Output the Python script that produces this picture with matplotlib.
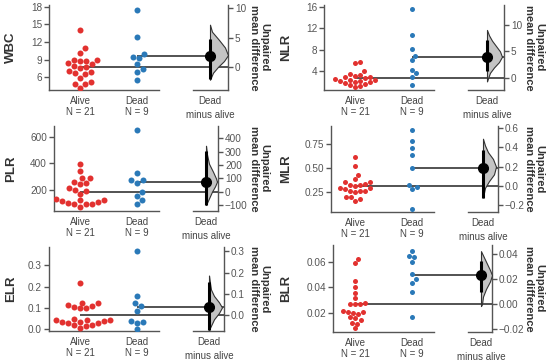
import numpy as np
import matplotlib
matplotlib.use("Agg")
import matplotlib.pyplot as plt

plt.rcParams['font.family'] = ['Liberation Sans', 'DejaVu Sans']

RED = '#e2312f'
BLUE = '#2a79b8'
GREY = '#555555'

group_names = ['Alive', 'Dead']
group_n = [21, 9]
delta_label = 'Dead\nminus alive'

# values
wbc_alive = [14.0, 10.9, 10.1, 8.8, 9.0, 9.0, 8.7, 8.4, 8.3, 7.9, 7.75, 7.5,
             6.85, 7.0, 6.7, 6.6, 5.9, 5.2, 4.9, 4.9, 4.2]
wbc_dead = [17.5, 12.9, 10.0, 9.35, 9.25, 8.3, 7.3, 6.9, 5.5]
nlr_alive = [5.7, 5.4, 4.0, 3.5, 3.3, 3.1, 2.9, 2.8, 2.6, 2.5, 2.4, 2.3,
             2.2, 2.1, 2.0, 1.9, 1.8, 1.6, 1.4, 1.2, 1.0]
nlr_dead = [15.5, 10.7, 8.05, 6.8, 6.0, 4.2, 3.6, 2.9, 1.45]
plr_alive = [393, 340, 290, 288, 262, 250, 248, 218, 200, 192, 172, 130,
             128, 125, 115, 112, 98, 95, 92, 100, 75]
plr_dead = [648, 325, 275, 277, 252, 187, 152, 123, 93]
mlr_alive = [0.615, 0.52, 0.43, 0.385, 0.35, 0.35, 0.33, 0.32, 0.32, 0.31,
             0.29, 0.29, 0.28, 0.265, 0.26, 0.255, 0.25, 0.2, 0.195, 0.18, 0.16]
mlr_dead = [0.89, 0.778, 0.708, 0.629, 0.494, 0.327, 0.285, 0.299, 0.077]
elr_alive = [0.217, 0.125, 0.122, 0.112, 0.108, 0.104, 0.1, 0.098, 0.048,
             0.045, 0.043, 0.042, 0.039, 0.035, 0.032, 0.03, 0.028, 0.02,
             0.018, 0.015, 0.003]
elr_dead = [0.366, 0.155, 0.108, 0.122, 0.0845, 0.0376, 0.0296, 0.031, 0.0]
blr_alive = [0.0627, 0.0592, 0.0446, 0.0406, 0.0358, 0.0312, 0.0275, 0.027,
             0.0268, 0.0265, 0.021, 0.0205, 0.0205, 0.02, 0.019, 0.0165,
             0.0158, 0.014, 0.0115, 0.0112, 0.0075]
blr_dead = [0.0691, 0.0646, 0.0638, 0.06, 0.0504, 0.0464, 0.0435, 0.036, 0.0166]

# 95% CI of the mean difference
wbc_ci = [-2.0, 4.7]
nlr_ci = [1.35, 7.2]
plr_ci = [-100, 305]
mlr_ci = [-0.12, 0.377]
elr_ci = [-0.069, 0.154]
blr_ci = [0.0095, 0.0338]

# bootstrap distribution outline (delta value, half width in px)
wbc_vy = [7.2, 6.0, 4.6, 3.3, 2.0, 1.0, 0.0, -1.0, -2.2]
wbc_vw = [0, 2, 9, 15, 18, 14, 8, 3, 0]
nlr_vy = [9.0, 8.0, 7.0, 6.0, 5.0, 4.0, 3.0, 2.0, 1.0, 0.0, -0.6]
nlr_vw = [0, 2, 5, 9, 13, 15, 12, 7, 3, 1, 0]
plr_vy = [345, 280, 210, 150, 100, 75, 40, 0, -50, -100]
plr_vw = [0, 1, 3, 7, 10, 11, 9, 6, 3, 0]
mlr_vy = [0.49, 0.42, 0.35, 0.28, 0.2, 0.12, 0.05, -0.02, -0.12]
mlr_vw = [0, 2, 5, 10, 13, 11, 6, 2, 0]
elr_vy = [0.186, 0.15, 0.12, 0.09, 0.06, 0.036, 0.01, -0.02, -0.05, -0.07]
elr_vw = [0, 1, 2, 5, 10, 13, 10, 5, 2, 0]
blr_vy = [0.042, 0.037, 0.032, 0.027, 0.023, 0.018, 0.012, 0.006, 0.0, -0.0015]
blr_vw = [0, 3, 6, 9, 11, 9, 5, 2, 1, 0]

panels = [
    dict(name='WBC', alive=wbc_alive, dead=wbc_dead, ci=wbc_ci, vy=wbc_vy, vw=wbc_vw,
         ylim=(3.8, 18.3), yticks=[6, 9, 12, 15, 18], dticks=[0, 5, 10],
         box=(49, 228, 5, 90), xa=80, xd=210, col=0, dot=6.0),
    dict(name='NLR', alive=nlr_alive, dead=nlr_dead, ci=nlr_ci, vy=nlr_vy, vw=nlr_vw,
         ylim=(0.45, 16.3), yticks=[4, 8, 12, 16], dticks=[0, 5, 10],
         box=(324, 504, 5, 90), xa=355, xd=487, col=1, dot=5.0),
    dict(name='PLR', alive=plr_alive, dead=plr_dead, ci=plr_ci, vy=plr_vy, vw=plr_vw,
         ylim=(42, 680), yticks=[200, 400, 600], dticks=[-100, 0, 100, 200, 300, 400],
         box=(54, 218, 126, 211), xa=80, xd=206, col=0, dot=6.0),
    dict(name='MLR', alive=mlr_alive, dead=mlr_dead, ci=mlr_ci, vy=mlr_vy, vw=mlr_vw,
         ylim=(0.042, 0.934), yticks=[0.25, 0.50, 0.75], dticks=[-0.2, 0.0, 0.2, 0.4, 0.6],
         box=(331, 498, 126, 212), xa=355, xd=483, col=1, dot=5.0),
    dict(name='ELR', alive=elr_alive, dead=elr_dead, ci=elr_ci, vy=elr_vy, vw=elr_vw,
         ylim=(-0.009, 0.386), yticks=[0.0, 0.1, 0.2, 0.3], dticks=[0.0, 0.1, 0.2, 0.3],
         box=(49, 224, 247, 331), xa=80, xd=209, col=0, dot=6.0),
    dict(name='BLR', alive=blr_alive, dead=blr_dead, ci=blr_ci, vy=blr_vy, vw=blr_vw,
         ylim=(0.0046, 0.0735), yticks=[0.02, 0.04, 0.06], dticks=[-0.02, 0.0, 0.02, 0.04],
         box=(333, 492, 245, 332), xa=355, xd=481, col=1, dot=5.0),
]

yfmt = {'WBC': '{:.0f}', 'NLR': '{:.0f}', 'PLR': '{:.0f}', 'MLR': '{:.2f}',
        'ELR': '{:.1f}', 'BLR': '{:.2f}'}
dfmt = {'WBC': '{:.0f}', 'NLR': '{:.0f}', 'PLR': '{:.0f}', 'MLR': '{:.1f}',
        'ELR': '{:.1f}', 'BLR': '{:.2f}'}

W, H = 550, 363
PX = 57.0  # px per group step

fig = plt.figure(figsize=(W / 100, H / 100), dpi=100)


def find_offset(y, placed, d, step):
    k = 0
    while True:
        cands = [0.0] if k == 0 else [k * step, -k * step]
        for c in cands:
            if all((c - px) ** 2 + (y - py) ** 2 >= d * d for px, py in placed):
                return c
        k += 1


def swarm(ax, x0, values, d):
    ys = ax.transData.transform(np.column_stack([np.full(len(values), x0),
                                                 values]))[:, 1]
    offs = np.zeros(len(values))
    placed = []
    for i in np.argsort(ys):
        c = find_offset(ys[i], placed, d, d / 5)
        placed.append((c, ys[i]))
        offs[i] = c
    return x0 + offs / PX


def fmt_ticks(vals, f):
    out = []
    for v in vals:
        s = f.format(v)
        if s.startswith('-'):
            s = '\u2212' + s[1:]
        out.append(s)
    return out


for p in panels:
    L, R, T, B = p['box']
    ax = fig.add_axes([L / W, 1 - B / H, (R - L) / W, (B - T) / H])
    x0 = (L - p['xa']) / PX
    x1 = (R - p['xa']) / PX
    xdel = (p['xd'] - p['xa']) / PX
    ax.set_xlim(x0, x1)
    ax.set_ylim(*p['ylim'])

    alive = np.array(p['alive'])
    dead = np.array(p['dead'])
    ma, md = alive.mean(), dead.mean()
    delta = md - ma

    ax2 = ax.twinx()
    ax2.set_ylim(p['ylim'][0] - ma, p['ylim'][1] - ma)
    ax2.set_xlim(x0, x1)

    s = (p['dot'] * 0.72) ** 2
    d = p['dot'] * 1.0
    ax.scatter(swarm(ax, 0, alive, d), alive, s=s, color=RED, lw=0, zorder=3)
    ax.scatter(swarm(ax, 1, dead, d), dead, s=s, color=BLUE, lw=0, zorder=3)

    ax.hlines(ma, 0, x1, color='#444444', lw=1.3, zorder=2)
    ax.hlines(md, 1, x1, color='#444444', lw=1.3, zorder=2)

    vy = np.array(p['vy'])
    vw = np.array(p['vw']) / PX
    ax2.fill_betweenx(vy, xdel, xdel + vw, facecolor='#c4c4c4',
                      edgecolor='#333333', lw=0.8, zorder=3)
    ax2.plot([xdel, xdel], p['ci'], color='black', lw=2.2, zorder=4,
             solid_capstyle='butt')
    ax2.plot(xdel, delta, 'o', color='black', ms=7, zorder=5)

    # spines
    for sp in ['top', 'right']:
        ax.spines[sp].set_visible(False)
    for sp in ['top', 'left']:
        ax2.spines[sp].set_visible(False)
    ax.spines['bottom'].set_bounds(x0, 1.38)
    ax2.spines['bottom'].set_bounds(1.98, x1)
    for a in (ax, ax2):
        for sp in a.spines.values():
            sp.set_color(GREY)
            sp.set_linewidth(1.0)

    ax.set_yticks(p['yticks'])
    ax.set_yticklabels(fmt_ticks(p['yticks'], yfmt[p['name']]))
    ax2.set_yticks(p['dticks'])
    ax2.set_yticklabels(fmt_ticks(p['dticks'], dfmt[p['name']]))
    ax2.set_ylim(p['ylim'][0] - ma, p['ylim'][1] - ma)
    for a in (ax, ax2):
        a.tick_params(axis='y', length=3.5, width=1.0, color=GREY,
                      labelsize=7.2, labelcolor=GREY, pad=1.5)

    ax.set_xticks([0, 1, xdel])
    labels = ax.set_xticklabels(
        [f'{group_names[0]}\nN = {group_n[0]}',
         f'{group_names[1]}\nN = {group_n[1]}', delta_label])
    labels[2].set_linespacing(1.5)
    ax.tick_params(axis='x', length=0, labelsize=7, labelcolor='#444444', pad=4)

    ax.set_ylabel(p['name'], fontsize=9.5, fontweight='bold', color='#333333')
    ax.yaxis.set_label_coords((17 + 275 * p['col'] - L) / (R - L), 0.5)
    ax2.set_ylabel('Unpaired\nmean difference', rotation=270, va='bottom',
                   fontsize=8, fontweight='bold', color='#333333',
                   linespacing=1.0)
    ax2.yaxis.set_label_coords((249 + 275 * p['col'] - L) / (R - L), 0.5)

fig.savefig('out.png', dpi=100)
plt.close(fig)
